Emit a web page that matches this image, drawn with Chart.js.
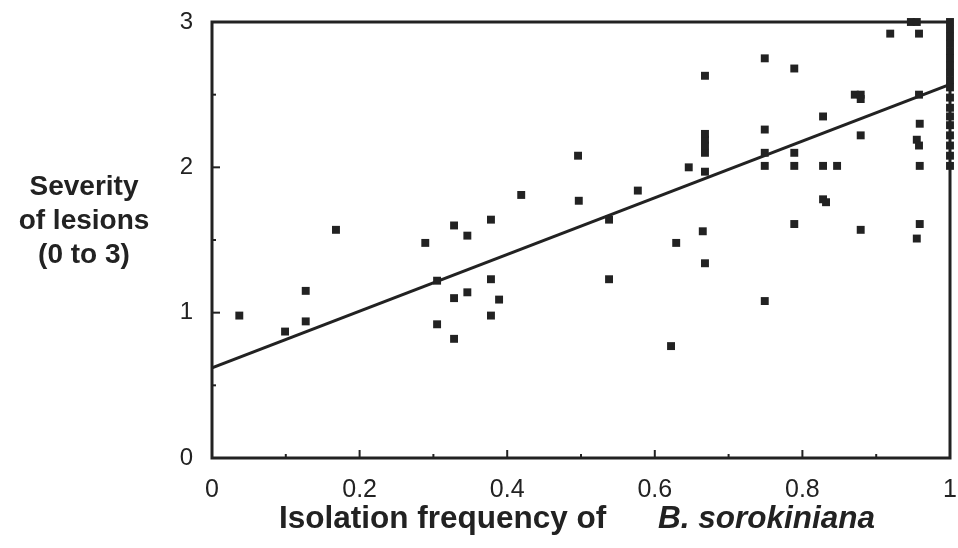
<!DOCTYPE html>
<html>
<head>
<meta charset="utf-8">
<script src="https://cdn.jsdelivr.net/npm/chart.js@4/dist/chart.umd.min.js"></script>
<style>
html,body{margin:0;padding:0;background:#fff;}
#wrap{position:relative;width:958px;height:548px;}
</style>
</head>
<body>
<div id="wrap"><canvas id="c" width="958" height="548"></canvas></div>
<script>
// Isolation frequency of B. sorokiniana (x) and severity of lesions (y)
const isoFreq = [
  0.037,0.099,0.127,0.127,0.168,0.289,0.305,0.305,0.328,0.328,
  0.328,0.346,0.346,0.378,0.378,0.378,0.389,0.419,0.496,0.497,
  0.538,0.538,0.577,0.622,0.629,0.646,0.668,0.668,0.668,0.668,
  0.668,0.668,0.665,0.668,0.749,0.749,0.749,0.749,0.749,0.789,
  0.789,0.789,0.789,0.828,0.828,0.828,0.832,0.847,0.871,0.879,
  0.879,0.879,0.879,0.919,0.947,0.955,0.958,0.958,0.959,0.955,
  0.958,0.959,0.959,0.955,
  1,1,1,1,1,1,1,1,1,1,1,1,1,1,1,1,1,1
];
const severity = [
  0.98,0.87,0.94,1.15,1.57,1.48,0.92,1.22,1.60,1.10,
  0.82,1.53,1.14,1.64,1.23,0.98,1.09,1.81,2.08,1.77,
  1.64,1.23,1.84,0.77,1.48,2.00,2.10,2.15,2.19,2.23,
  2.63,1.97,1.56,1.34,2.75,2.26,2.10,2.01,1.08,2.68,
  2.10,2.01,1.61,2.35,2.01,1.78,1.76,2.01,2.50,2.50,
  2.47,2.22,1.57,2.92,3.00,3.00,2.92,2.50,2.30,2.19,
  2.15,2.01,1.61,1.51,
  3.00,2.95,2.90,2.85,2.80,2.75,2.70,2.65,2.60,2.55,2.48,2.41,2.35,2.29,2.22,2.15,2.08,2.01
];
// Regression line end points
const fitX = [0, 1];
const fitY = [0.62, 2.57];
// Axis tick values
const xTickValues = [0, 0.2, 0.4, 0.6, 0.8, 1];
const yTickValues = [0, 1, 2, 3];
// Titles
const yTitleLines = ["Severity", "of lesions", "(0 to 3)"];
const xTitlePlain = "Isolation frequency of";
const xTitleItalic = "B. sorokiniana";

const INK = '#222222';
const FONT = "'Liberation Sans', Arial, Helvetica, sans-serif";

const points = isoFreq.map((x, i) => ({x: x, y: severity[i]}));
const fit = fitX.map((x, i) => ({x: x, y: fitY[i]}));

const decorPlugin = {
  id: 'decor',
  afterDatasetsDraw(chart) {
    const ctx = chart.ctx;
    const a = chart.chartArea;
    const xs = chart.scales.x, ys = chart.scales.y;
    ctx.save();
    // inward ticks
    ctx.strokeStyle = INK;
    ctx.lineWidth = 2;
    for (let k = 1; k < 10; k++) {
      const v = k / 10;
      const px = xs.getPixelForValue(v);
      const len = (k % 2 === 0) ? 8 : 4;
      ctx.beginPath();
      ctx.moveTo(px, a.bottom);
      ctx.lineTo(px, a.bottom - len);
      ctx.stroke();
    }
    for (let k = 1; k < 6; k++) {
      const v = k / 2;
      const py = ys.getPixelForValue(v);
      const len = (k % 2 === 0) ? 8 : 4;
      ctx.beginPath();
      ctx.moveTo(a.left, py);
      ctx.lineTo(a.left + len, py);
      ctx.stroke();
    }
    // frame
    ctx.lineWidth = 3;
    ctx.strokeRect(a.left, a.top, a.right - a.left, a.bottom - a.top);
    ctx.restore();
  },
  afterDraw(chart) {
    const ctx = chart.ctx;
    const a = chart.chartArea;
    ctx.save();
    ctx.fillStyle = INK;
    // y title (horizontal, three lines)
    ctx.font = "bold 28px " + FONT;
    ctx.textAlign = 'center';
    ctx.textBaseline = 'middle';
    const cx = 84, cy = (a.top + a.bottom) / 2 - 19;
    yTitleLines.forEach((t, i) => ctx.fillText(t, cx, cy + (i - 1) * 34));
    // x title
    const ty = 519;
    ctx.textAlign = 'left';
    ctx.font = "bold 31.5px " + FONT;
    ctx.fillText(xTitlePlain, 279, ty);
    ctx.font = "italic bold 31.5px " + FONT;
    ctx.fillText(xTitleItalic, 658, ty);
    ctx.restore();
  }
};

new Chart(document.getElementById('c'), {
  type: 'scatter',
  data: {
    datasets: [
      {
        type: 'line',
        label: 'fit',
        data: fit,
        borderColor: INK,
        borderWidth: 3,
        pointRadius: 0,
        fill: false,
        order: 2
      },
      {
        label: 'samples',
        data: points,
        pointStyle: 'rect',
        pointRadius: 5.6,
        pointHoverRadius: 5.6,
        backgroundColor: INK,
        borderColor: INK,
        borderWidth: 0,
        clip: false,
        order: 1
      }
    ]
  },
  options: {
    responsive: false,
    animation: false,
    events: [],
    layout: { padding: { left: 0, right: 8, top: 22, bottom: 0 } },
    plugins: {
      legend: { display: false },
      tooltip: { enabled: false },
      title: { display: false }
    },
    scales: {
      x: {
        type: 'linear',
        min: 0, max: 1,
        grid: { display: false, drawTicks: false },
        border: { display: false },
        afterBuildTicks: s => { s.ticks = xTickValues.map(v => ({value: v})); },
        ticks: {
          color: INK,
          padding: 17,
          font: { family: FONT, size: 25 },
          maxRotation: 0,
          autoSkip: false,
          callback: v => String(v)
        },
        afterFit: s => { s.height = 90; s.paddingLeft = 0; s.paddingRight = 0; }
      },
      y: {
        type: 'linear',
        min: 0, max: 3,
        grid: { display: false, drawTicks: false },
        border: { display: false },
        afterBuildTicks: s => { s.ticks = yTickValues.map(v => ({value: v})); },
        ticks: {
          color: INK,
          padding: 19,
          font: { family: FONT, size: 24 },
          callback: v => String(v)
        },
        afterFit: s => { s.width = 212; s.paddingTop = 0; s.paddingBottom = 0; }
      }
    }
  },
  plugins: [decorPlugin]
});
</script>
</body>
</html>
